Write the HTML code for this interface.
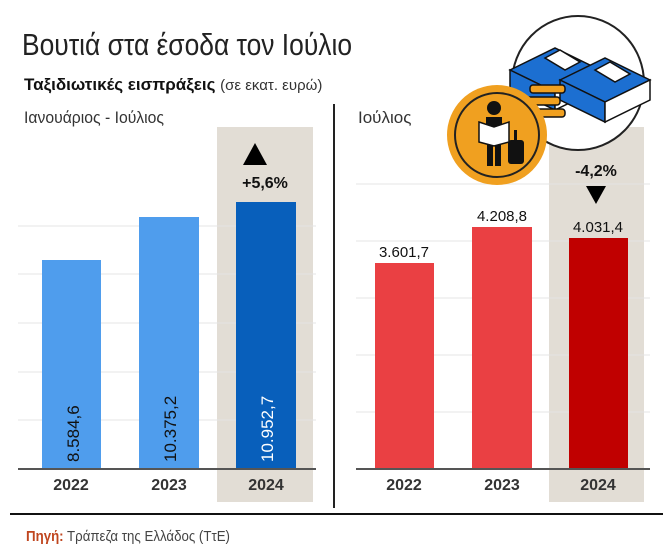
<!DOCTYPE html><html><head><meta charset="utf-8"><style>
body{margin:0;width:663px;height:554px;background:#fff;overflow:hidden;font-family:"Liberation Sans","DejaVu Sans",sans-serif}
svg{display:block}
</style></head><body>
<svg width="663" height="554" xmlns="http://www.w3.org/2000/svg" font-family="Liberation Sans, DejaVu Sans, sans-serif">
<text x="22" y="55" font-size="31" fill="#222" textLength="330" lengthAdjust="spacingAndGlyphs">Βουτιά στα έσοδα τον Ιούλιο</text>
<text x="24" y="90" font-size="17" font-weight="bold" fill="#111">Ταξιδιωτικές εισπράξεις <tspan font-weight="normal" font-size="15" fill="#333">(σε εκατ. ευρώ)</tspan></text>
<text x="24" y="123" font-size="17" fill="#333" textLength="140" lengthAdjust="spacingAndGlyphs">Ιανουάριος - Ιούλιος</text>
<text x="358" y="123" font-size="17" fill="#333">Ιούλιος</text>
<rect x="217" y="127" width="96" height="375" fill="#e2ddd5"/>
<rect x="549" y="127" width="95" height="375" fill="#e2ddd5"/>
<g stroke="#e4e4e4" stroke-width="1">
<line x1="18" x2="316" y1="420" y2="420"/><line x1="18" x2="316" y1="372" y2="372"/><line x1="18" x2="316" y1="323" y2="323"/><line x1="18" x2="316" y1="274" y2="274"/><line x1="18" x2="316" y1="226" y2="226"/>
<line x1="356" x2="650" y1="412" y2="412"/><line x1="356" x2="650" y1="355" y2="355"/><line x1="356" x2="650" y1="298" y2="298"/><line x1="356" x2="650" y1="241" y2="241"/><line x1="356" x2="650" y1="184" y2="184"/>
</g>
<rect x="42" y="260" width="59" height="209" fill="#4f9ded"/>
<rect x="139" y="217" width="60" height="252" fill="#4f9ded"/>
<rect x="236" y="202" width="60" height="267" fill="#085fbb"/>
<rect x="375" y="263" width="59" height="206" fill="#ea4043"/>
<rect x="472" y="227" width="60" height="242" fill="#ea4043"/>
<rect x="569" y="238" width="59" height="231" fill="#c00000"/>
<line x1="18" x2="316" y1="469" y2="469" stroke="#555" stroke-width="2"/>
<line x1="356" x2="650" y1="469" y2="469" stroke="#555" stroke-width="2"/>
<g font-size="17" fill="#111">
<text transform="translate(79,462) rotate(-90)">8.584,6</text>
<text transform="translate(176,462) rotate(-90)">10.375,2</text>
<text transform="translate(273,462) rotate(-90)" fill="#fff">10.952,7</text>
</g>
<g font-size="15" fill="#111" text-anchor="middle">
<text x="404" y="257">3.601,7</text><text x="502" y="221">4.208,8</text><text x="598" y="232">4.031,4</text>
</g>
<g font-size="16" font-weight="bold" fill="#333" text-anchor="middle">
<text x="71" y="490">2022</text><text x="169" y="490">2023</text><text x="266" y="490">2024</text>
<text x="404" y="490">2022</text><text x="502" y="490">2023</text><text x="598" y="490">2024</text>
</g>
<path d="M255,143 L267,165 L243,165Z" fill="#000"/>
<text x="265" y="188" font-size="16" font-weight="bold" text-anchor="middle" fill="#111">+5,6%</text>
<text x="596" y="176" font-size="16" font-weight="bold" text-anchor="middle" fill="#111">-4,2%</text>
<path d="M586,186 L606,186 L596,204Z" fill="#000"/>
<line x1="334" x2="334" y1="104" y2="508" stroke="#222" stroke-width="2"/>
<line x1="10" x2="663" y1="514" y2="514" stroke="#111" stroke-width="2"/>
<text x="26" y="541" font-size="15" fill="#444" textLength="204" lengthAdjust="spacingAndGlyphs"><tspan fill="#c0461f" font-weight="bold">Πηγή:</tspan> Τράπεζα της Ελλάδος (ΤτΕ)</text>
<ellipse cx="578" cy="83" rx="66" ry="67" fill="#fff" stroke="#222" stroke-width="2"/>
<g stroke="#111" stroke-width="1.5">
<path d="M510,70 L555,48 L600,70 L555,92Z" fill="#1c6fd1"/>
<path d="M510,70 L555,92 L555,110 L510,88Z" fill="#1c6fd1"/>
<path d="M555,92 L600,70 L600,88 L555,110Z" fill="#fff"/>
<path d="M545,58 L560,50 L580,62 L565,70Z" fill="#fff"/>
<path d="M560,80 L605,58 L650,80 L605,102Z" fill="#1c6fd1"/>
<path d="M560,80 L605,102 L605,122 L560,100Z" fill="#1c6fd1"/>
<path d="M605,102 L650,80 L650,100 L605,122Z" fill="#fff"/>
<path d="M595,70 L610,62 L630,74 L615,82Z" fill="#fff"/>
<rect x="530" y="85" width="35" height="8" rx="3" fill="#f0a020"/>
<rect x="525" y="97" width="35" height="8" rx="3" fill="#f0a020"/>
<rect x="530" y="109" width="35" height="8" rx="3" fill="#f0a020"/>
</g>
<circle cx="497" cy="135" r="50" fill="#f0a020"/>
<circle cx="497" cy="135" r="42" fill="none" stroke="#222" stroke-width="2"/>
<g fill="#111">
<circle cx="494" cy="108" r="7"/>
<rect x="486" y="117" width="16" height="25"/>
<rect x="487" y="140" width="6" height="26"/><rect x="495" y="140" width="6" height="26"/>
<rect x="508" y="140" width="16" height="24" rx="3"/>
<rect x="514" y="130" width="3" height="10"/>
</g>
<path d="M479,122 L494,127 L509,122 L509,142 L494,146 L479,142Z" fill="#fff" stroke="#111" stroke-width="1.5"/>
</svg>
</body></html>
